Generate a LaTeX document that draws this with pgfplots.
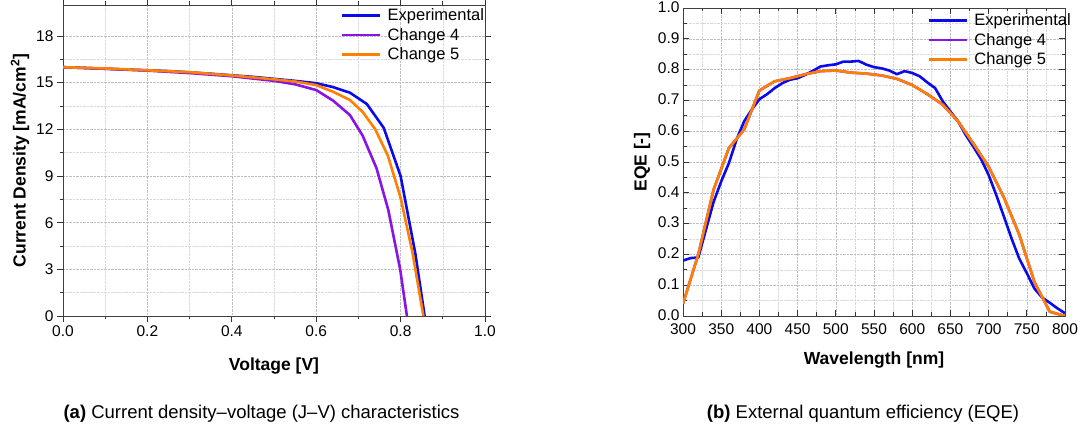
\documentclass[border=0pt]{standalone}
\usepackage{fontspec}
\setmainfont{Liberation Sans}
\usepackage{pgfplots}
\pgfplotsset{compat=1.18}
\definecolor{cexp}{RGB}{10,10,235}
\definecolor{cch4}{RGB}{136,20,230}
\definecolor{cch5}{RGB}{255,128,0}

\pgfplotsset{
 mystyle/.style={
  scale only axis,
  axis line style={black!75, line width=0.9pt},
  grid=both,
  major grid style={densely dotted, gray!50, line width=0.5pt},
  minor grid style={densely dotted, gray!30, line width=0.5pt},
  minor x tick num=1, minor y tick num=1,
  major tick length=6pt, minor tick length=3.5pt,
  tick style={black!80, line width=0.8pt},
  tick label style={font=\fontsize{15.5}{18}\selectfont},
  /pgf/number format/assume math mode=true,
  label style={font=\fontsize{17.5}{20}\selectfont\bfseries},
  legend style={draw=none, fill=none, font=\fontsize{16.5}{19}\selectfont, anchor=north west, inner sep=0pt, outer sep=0pt, row sep=2pt, column sep=4pt},
  legend cell align=left,
  legend image code/.code={\draw[#1] (0pt,0pt) -- (38pt,0pt);},
  every axis plot/.append style={line width=2.6pt, line join=round},
 }
}

\begin{document}
\begin{tikzpicture}
\useasboundingbox (0,0) rectangle (1082pt,427pt);

\begin{axis}[mystyle, at={(63pt,111pt)}, anchor=south west, width=422pt, height=311pt,
  xmin=0, xmax=1, ymin=0, ymax=20,
  xtick={0,0.2,0.4,0.6,0.8,1.0}, ytick={0,3,6,9,12,15,18},
  tick align=outside,
  xticklabel style={/pgf/number format/fixed, /pgf/number format/fixed zerofill, /pgf/number format/precision=1},
  xlabel={Voltage [V]}, ylabel={Current Density [mA/cm\textsuperscript{2}]},
  xlabel style={at={(axis description cs:0.5,-0.161)}, anchor=center},
  ylabel style={at={(axis description cs:-0.102,0.5)}, anchor=center},
  legend style={at={(axis description cs:0.659,1)}, yshift=-2pt}]
\addplot[cexp] coordinates {
(0,16.0) (0.05,15.95) (0.1,15.9) (0.15,15.85) (0.2,15.8) (0.25,15.75) (0.3,15.67)
(0.35,15.58) (0.4,15.48) (0.45,15.38) (0.5,15.25) (0.55,15.12) (0.6,14.97)
(0.64,14.72) (0.68,14.36) (0.72,13.63) (0.76,12.1) (0.80,9.0) (0.835,4.0) (0.857,0)};
\addlegendentry{Experimental}
\addplot[cch4] coordinates {
(0,16.0) (0.1,15.9) (0.2,15.78) (0.3,15.62) (0.4,15.42) (0.5,15.12) (0.55,14.9)
(0.6,14.53) (0.64,13.85) (0.68,12.92) (0.71,11.6) (0.743,9.5) (0.771,6.8) (0.799,3.0) (0.815,0)};
\addlegendentry{Change 4}
\addplot[cch5] coordinates {
(0,16.0) (0.1,15.92) (0.2,15.8) (0.3,15.68) (0.4,15.47) (0.5,15.22) (0.55,15.08)
(0.6,14.85) (0.64,14.42) (0.68,13.89) (0.71,13.13) (0.74,12.0) (0.77,10.3) (0.80,7.6) (0.828,4.1) (0.854,0)};
\addlegendentry{Change 5}
\end{axis}

\begin{axis}[mystyle, at={(683pt,111pt)}, anchor=south west, width=382pt, height=308pt,
  xmin=300, xmax=800, ymin=0, ymax=1,
  xtick={300,350,400,450,500,550,600,650,700,750,800},
  ytick={0,0.1,0.2,0.3,0.4,0.5,0.6,0.7,0.8,0.9,1.0},
  tick align=inside,
  xticklabel style={yshift=-4pt},
  yticklabel style={yshift=1pt, /pgf/number format/fixed, /pgf/number format/fixed zerofill, /pgf/number format/precision=1},
  xlabel={Wavelength [nm]}, ylabel={EQE [-]},
  xlabel style={at={(axis description cs:0.5,-0.143)}, anchor=center},
  ylabel style={at={(axis description cs:-0.107,0.5)}, anchor=center},
  legend style={at={(axis description cs:0.641,1)}, yshift=-4pt}]
\addplot[cexp] coordinates {
(300,0.18) (310,0.188) (320,0.19) (330,0.28) (340,0.37) (350,0.437) (360,0.496) (370,0.572)
(380,0.632) (390,0.67) (400,0.704) (410,0.72) (420,0.74) (430,0.756) (440,0.767) (450,0.772)
(460,0.783) (470,0.796) (480,0.81) (490,0.814) (500,0.817) (510,0.826) (520,0.826) (530,0.828)
(540,0.816) (550,0.808) (560,0.804) (570,0.797) (580,0.785) (590,0.795) (600,0.789) (610,0.778)
(620,0.758) (630,0.74) (640,0.697) (650,0.664) (660,0.632) (670,0.588) (680,0.55) (690,0.51)
(700,0.458) (710,0.393) (720,0.323) (730,0.252) (740,0.187) (750,0.139) (760,0.089) (770,0.06)
(780,0.043) (790,0.025) (800,0.009)};
\addlegendentry{Experimental}
\addplot[cch4] coordinates {
(300,0.04) (320,0.2) (340,0.41) (360,0.545) (380,0.605) (400,0.732) (420,0.762) (440,0.772)
(460,0.785) (480,0.795) (500,0.797) (520,0.79) (540,0.787) (560,0.781) (580,0.77) (600,0.75)
(620,0.72) (640,0.686) (660,0.632) (680,0.56) (700,0.485) (720,0.385) (740,0.265) (760,0.11)
(780,0.014) (800,0.0)};
\addlegendentry{Change 4}
\addplot[cch5] coordinates {
(300,0.04) (320,0.2) (340,0.41) (360,0.545) (380,0.605) (400,0.732) (420,0.762) (440,0.772)
(460,0.785) (480,0.795) (500,0.797) (520,0.79) (540,0.787) (560,0.781) (580,0.77) (600,0.75)
(620,0.72) (640,0.686) (660,0.632) (680,0.56) (700,0.485) (720,0.385) (740,0.265) (760,0.11)
(780,0.014) (800,0.0)};
\addlegendentry{Change 5}
\end{axis}

\node[font=\fontsize{18.5}{22}\selectfont] at (261.5pt,13pt) {\textbf{(a)} Current density–voltage (J–V) characteristics};
\node[font=\fontsize{18.5}{22}\selectfont] at (863pt,13pt) {\textbf{(b)} External quantum efficiency (EQE)};
\end{tikzpicture}
\end{document}
